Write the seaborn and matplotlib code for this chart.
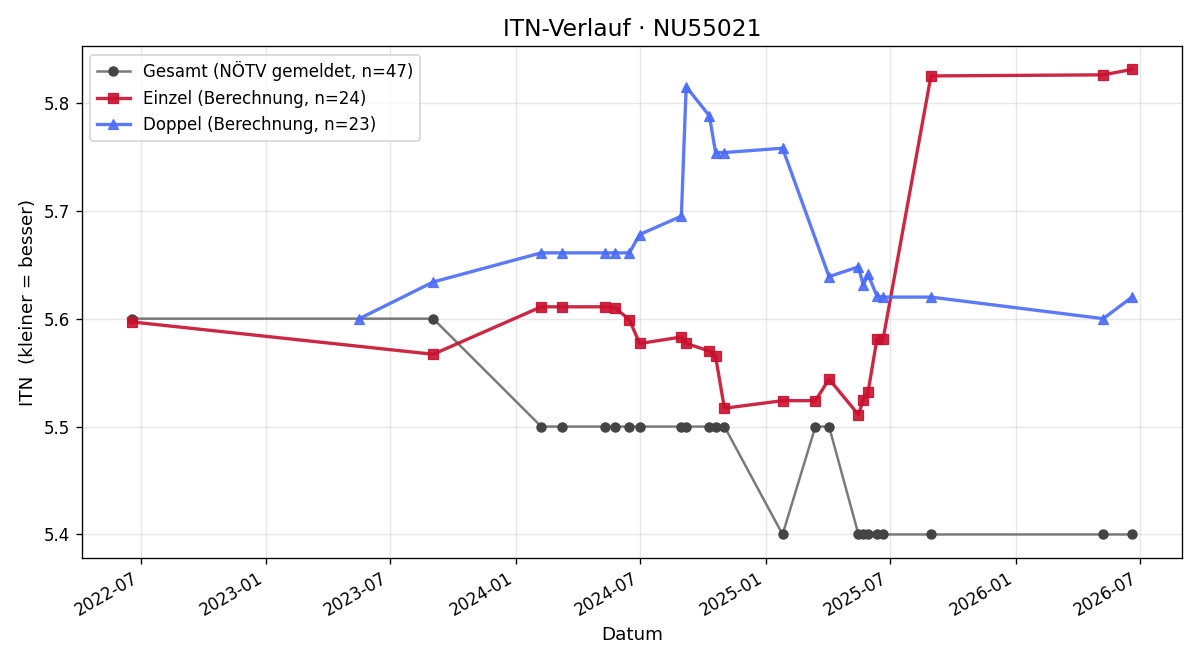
import matplotlib
matplotlib.use("Agg")
import matplotlib.pyplot as plt
import matplotlib.dates as mdates
import seaborn as sns
import pandas as pd

gesamt_dates = ["2022-06-18", "2023-09-02", "2024-02-07", "2024-03-09", "2024-05-11", "2024-05-25",
                "2024-06-15", "2024-06-30", "2024-08-30", "2024-09-06", "2024-10-10", "2024-10-19",
                "2024-11-01", "2025-01-25", "2025-03-14", "2025-04-03", "2025-05-16", "2025-05-23",
                "2025-05-30", "2025-06-12", "2025-06-21", "2025-08-30", "2026-05-09", "2026-06-20"]
gesamt_vals = [5.6, 5.6, 5.5, 5.5, 5.5, 5.5, 5.5, 5.5, 5.5, 5.5, 5.5, 5.5, 5.5, 5.4, 5.5, 5.5,
               5.4, 5.4, 5.4, 5.4, 5.4, 5.4, 5.4, 5.4]

einzel_dates = ["2022-06-18", "2023-09-02", "2024-02-07", "2024-03-09", "2024-05-11", "2024-05-25",
                "2024-06-15", "2024-06-30", "2024-08-30", "2024-09-06", "2024-10-10", "2024-10-19",
                "2024-11-01", "2025-01-25", "2025-03-14", "2025-04-03", "2025-05-16", "2025-05-23",
                "2025-05-30", "2025-06-12", "2025-06-21", "2025-08-30", "2026-05-09", "2026-06-20"]
einzel_vals = [5.597, 5.567, 5.611, 5.611, 5.611, 5.610, 5.599, 5.577, 5.583, 5.577, 5.570, 5.565,
               5.517, 5.524, 5.524, 5.544, 5.511, 5.525, 5.532, 5.581, 5.581, 5.825, 5.826, 5.831]

doppel_dates = ["2023-05-17", "2023-09-02", "2024-02-07", "2024-03-09", "2024-05-11", "2024-05-25",
                "2024-06-15", "2024-06-30", "2024-08-30", "2024-09-06", "2024-10-10", "2024-10-19",
                "2024-11-01", "2025-01-25", "2025-04-03", "2025-05-16", "2025-05-23", "2025-05-30",
                "2025-06-12", "2025-06-21", "2025-08-30", "2026-05-09", "2026-06-20"]
doppel_vals = [5.600, 5.634, 5.661, 5.661, 5.661, 5.661, 5.661, 5.678, 5.695, 5.815, 5.788, 5.754,
               5.754, 5.758, 5.639, 5.648, 5.631, 5.641, 5.621, 5.620, 5.620, 5.600, 5.620]

labels = ["Gesamt (NÖTV gemeldet, n=47)", "Einzel (Berechnung, n=24)", "Doppel (Berechnung, n=23)"]
title = "ITN-Verlauf · NU55021"

df_g = pd.DataFrame({"Datum": pd.to_datetime(gesamt_dates), "ITN": gesamt_vals})
df_e = pd.DataFrame({"Datum": pd.to_datetime(einzel_dates), "ITN": einzel_vals})
df_d = pd.DataFrame({"Datum": pd.to_datetime(doppel_dates), "ITN": doppel_vals})

fig, ax = plt.subplots(figsize=(10, 5.5), dpi=120)

sns.lineplot(data=df_g, x="Datum", y="ITN", ax=ax, color="#7a7a7a", linewidth=1.5,
             marker="o", markersize=5.5, markerfacecolor="#444444", markeredgecolor="#444444",
             label=labels[0], estimator=None, sort=False)
sns.lineplot(data=df_e, x="Datum", y="ITN", ax=ax, color="#c8102e", alpha=0.9, linewidth=2,
             marker="s", markersize=6, markeredgecolor="#c8102e",
             label=labels[1], estimator=None, sort=False)
sns.lineplot(data=df_d, x="Datum", y="ITN", ax=ax, color="#4a6cf7", alpha=0.9, linewidth=2,
             marker="^", markersize=6, markeredgecolor="#4a6cf7",
             label=labels[2], estimator=None, sort=False)

ax.set_title(title, fontsize=14)
ax.set_xlabel("Datum", fontsize=11)
ax.set_ylabel("ITN  (kleiner = besser)", fontsize=11)
ax.grid(True, alpha=0.3)
ax.xaxis.set_major_locator(mdates.MonthLocator(bymonth=[1, 7]))
ax.xaxis.set_major_formatter(mdates.DateFormatter("%Y-%m"))
ax.legend(loc="upper left", fontsize=10)
fig.autofmt_xdate()
fig.subplots_adjust(left=0.068, right=0.985, top=0.93, bottom=0.155)
fig.savefig("out.png", dpi=120)
